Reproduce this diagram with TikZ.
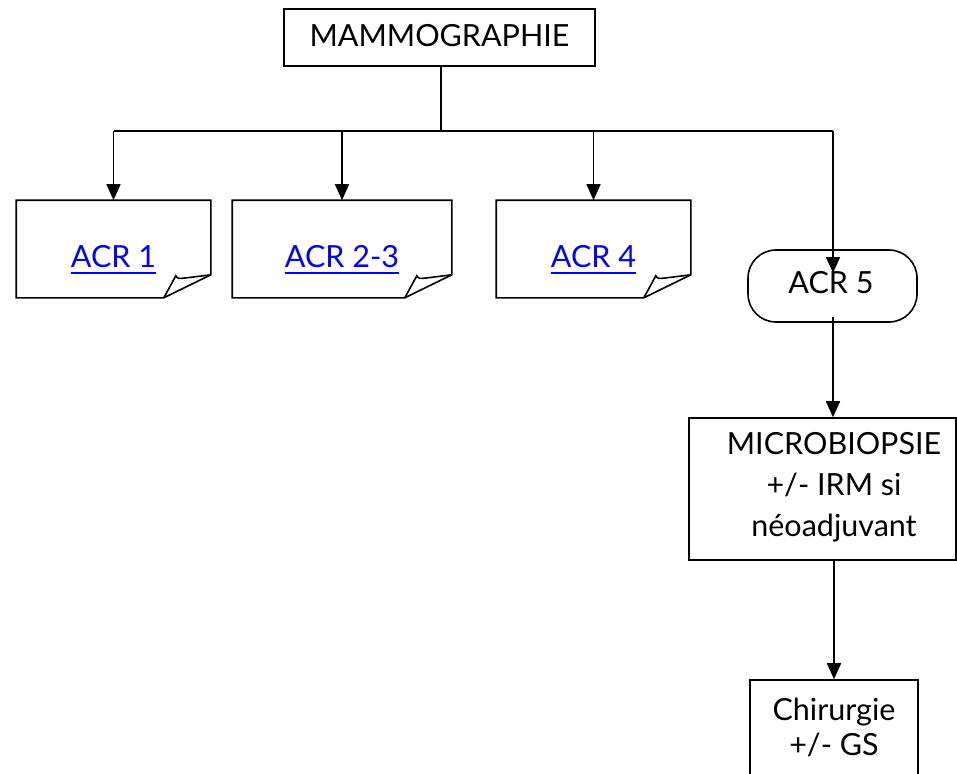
\documentclass[tikz,border=0pt]{standalone}
\usepackage{fontspec}
\setmainfont{Lato}
\usetikzlibrary{arrows.meta,calc}
\definecolor{linkblue}{RGB}{0,0,255}
\newsavebox\lnkbox
% blue underlined hyperlink-style text
\newcommand\linktxt[1]{\sbox\lnkbox{#1}\rlap{\rule[-6.5pt]{\wd\lnkbox}{2pt}}\usebox\lnkbox}
\begin{document}
\begin{tikzpicture}[x=1pt,y=-1pt,
  line width=1.6pt,
  txt/.style={inner sep=0pt,font=\fontsize{30.5}{36}\selectfont},
  lnk/.style={txt,text=linkblue},
  box/.style={draw,rectangle,inner sep=0pt},
  notebox/.style={rectangle,inner sep=0pt,minimum height=96pt},
  pill/.style={draw,rectangle,rounded corners=28pt,inner sep=0pt,minimum width=169pt,minimum height=72pt},
  arr/.style={-{Triangle[length=16pt,width=14pt]}}
]
\clip (0,0) rectangle (957,773);
\fill[white] (0,0) rectangle (957,773);

% top box
\node[box,minimum width=311pt,minimum height=57pt] (mammo) at (439.5,37.5) {};
\node[txt,anchor=base] (mammotxt) at (439.5,47) {MAMMOGRAPHIE};

% folded-corner note boxes
\node[notebox,minimum width=193pt] (acr1) at (113.5,249) {};
\node[notebox,minimum width=218pt] (acr23) at (342,249) {};
\node[notebox,minimum width=193pt] (acr4) at (593.5,249) {};
\foreach \n in {acr1,acr23,acr4}{
  \draw (\n.north west) -- (\n.north east) -- ([yshift=23pt]\n.south east)
    -- ([xshift=-47pt]\n.south east) -- (\n.south west) -- cycle;
  \draw ([xshift=-47pt]\n.south east) -- ([xshift=-35pt,yshift=22pt]\n.south east)
    .. controls ([xshift=-33pt,yshift=19pt]\n.south east) .. ([xshift=-24pt,yshift=20pt]\n.south east)
    -- ([yshift=23pt]\n.south east);
}
\node[lnk,anchor=base] (acr1txt) at ([yshift=-18pt]acr1.center) {\linktxt{ACR 1}};
\node[lnk,anchor=base] (acr23txt) at ([yshift=-18pt]acr23.center) {\linktxt{ACR 2-3}};
\node[lnk,anchor=base] (acr4txt) at ([yshift=-18pt]acr4.center) {\linktxt{ACR 4}};

% ACR 5 and its branch
\node[pill] (acr5) at (832.5,286) {};
\node[txt,anchor=base] (acr5txt) at (831,293) {ACR 5};
\coordinate (acr5in) at (833,273);
\coordinate (acr5out) at (833,317);

\node[box,minimum width=267pt,minimum height=142pt] (micro) at (822.5,489) {};
\node[txt,anchor=north,align=center,font=\fontsize{30.5}{41}\selectfont] (microtxt) at (834,432)
  {MICROBIOPSIE\\+/- IRM si\\néoadjuvant};

\node[box,minimum width=168pt,minimum height=130pt] (chir) at (834,745) {};
\node[txt,anchor=north,align=center,font=\fontsize{30.5}{35}\selectfont] (chirtxt) at (834,697)
  {Chirurgie\\+/- GS};

% connectors
\coordinate (bus) at (441,131);
\draw ([xshift=1.5pt]mammo.south) -- (mammo.south -| bus) -- (bus);
\draw (acr1.north |- bus) -- (acr5in |- bus);
\draw[arr] (acr1.north |- bus) -- (acr1.north);
\draw[arr] (acr23.north |- bus) -- (acr23.north);
\draw[arr] (acr4.north |- bus) -- (acr4.north);
\draw[arr] (acr5in |- bus) -- (acr5in);
\draw[arr] (acr5out) -- (acr5out |- micro.north);
\draw[arr] (micro.south -| chir.north) -- (chir.north);
\end{tikzpicture}
\end{document}
